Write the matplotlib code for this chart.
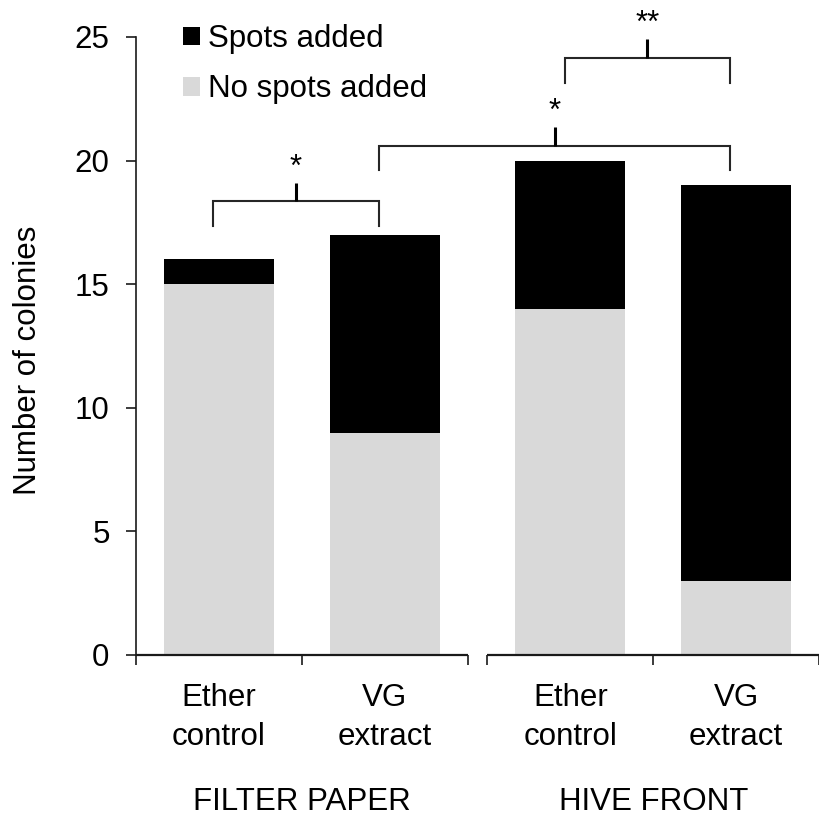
import matplotlib
matplotlib.use("Agg")
import matplotlib.pyplot as plt
from matplotlib.patches import Patch

plt.rcParams['font.family'] = ['Liberation Sans', 'DejaVu Sans']

# ---- data ----
categories = ["Ether\ncontrol", "VG\nextract", "Ether\ncontrol", "VG\nextract"]
groups = ["FILTER PAPER", "HIVE FRONT"]
no_spots = [15, 9, 14, 3]
spots = [1, 8, 6, 16]
series_labels = ["Spots added", "No spots added"]
yticks = [0, 5, 10, 15, 20, 25]
bracket_pairs = [(0, 1), (1, 3), (2, 3)]
bracket_levels = [18.35, 20.6, 24.15]
bracket_labels = ["*", "*", "**"]

# ---- layout / style ----
FS = 22.5
W, H = 819, 835
fig = plt.figure(figsize=(W / 100, H / 100), dpi=100)
ax = fig.add_axes([136 / W, (H - 655) / H, (W - 136) / W, 618 / H])

group_starts = [0.0, 2.12]
pos = [group_starts[0] + 0.5, group_starts[0] + 1.5,
       group_starts[1] + 0.5, group_starts[1] + 1.5]
bar_w = 0.663
c_light = "#D9D9D9"
c_dark = "#000000"

ax.bar(pos, no_spots, width=bar_w, color=c_light, linewidth=0, zorder=2)
ax.bar(pos, spots, bottom=no_spots, width=bar_w, color=c_dark, linewidth=0, zorder=2)

ax.set_xlim(0, 4.04)
ax.set_ylim(0, 25)
ax.set_yticks(yticks)
ax.set_yticklabels([str(v) for v in yticks], fontsize=FS)

for s in ["top", "right", "bottom"]:
    ax.spines[s].set_visible(False)
ax.spines["left"].set_linewidth(1.2)
ax.spines["left"].set_color("#1a1a1a")
ax.tick_params(axis="y", direction="out", length=7, width=1.2, color="#1a1a1a", pad=12)

# x axis: two broken segments with ticks at category boundaries
bounds = []
for g in group_starts:
    ax.plot([g, g + 2], [0, 0], color="#1a1a1a", lw=1.6, clip_on=False, zorder=3,
            solid_capstyle="butt")
    bounds += [g, g + 1, g + 2]
ax.set_xticks(bounds)
ax.set_xticklabels([""] * len(bounds))
ax.tick_params(axis="x", which="major", direction="out", length=7, width=1.2, color="#1a1a1a")
ax.set_xticks(pos, minor=True)
ax.set_xticklabels(categories, minor=True, fontsize=FS, linespacing=1.38)
ax.tick_params(axis="x", which="minor", length=0, pad=20)

# group labels
for g, name in zip(group_starts, groups):
    ax.annotate(name, xy=(g + 1, 0), xycoords=("data", "axes fraction"),
                xytext=(0, -106), textcoords="offset points",
                ha="center", va="center", fontsize=FS)

ax.set_ylabel("Number of colonies", fontsize=FS)
ax.yaxis.set_label_coords(-0.136, 0.477)

# legend
handles = [Patch(facecolor=c_dark, edgecolor="none"),
           Patch(facecolor=c_light, edgecolor="none")]
fig.legend(handles, series_labels, loc="upper left",
           bbox_to_anchor=(183 / W, 1 - 24 / H), bbox_transform=fig.transFigure,
           frameon=False, fontsize=FS, handlelength=0.55, handleheight=0.55,
           handletextpad=0.25, labelspacing=0.65, borderpad=0, borderaxespad=0)

# significance brackets
off = -0.035
drop = 1.0
tick_up = 0.75
for (i, j), yl, lab in zip(bracket_pairs, bracket_levels, bracket_labels):
    xl, xr = pos[i] + off, pos[j] + off
    xm = (xl + xr) / 2
    ax.plot([xl, xl, xr, xr], [yl - drop, yl, yl, yl - drop], color="#262626",
            lw=1.5, clip_on=False, zorder=4, solid_joinstyle="miter")
    ax.plot([xm, xm], [yl, yl + tick_up], color="#000000", lw=2.2,
            clip_on=False, zorder=4, solid_capstyle="butt")
    ax.text(xm, yl + tick_up + 0.3, lab, ha="center", va="baseline",
            fontsize=FS, clip_on=False)

fig.savefig("out.png", dpi=100)
